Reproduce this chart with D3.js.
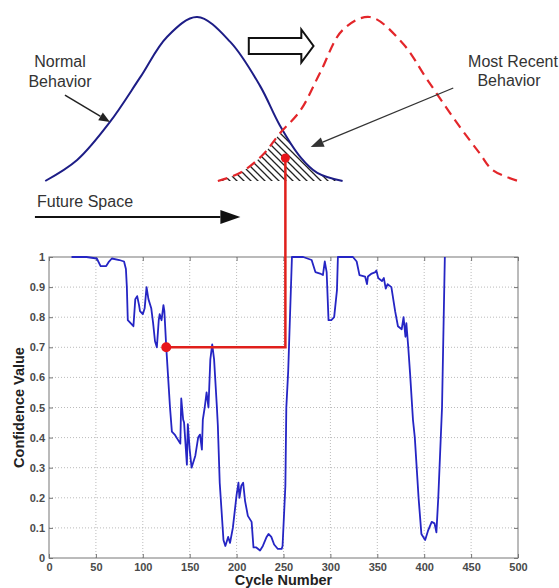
<!DOCTYPE html>
<html lang="en">
<head>
<meta charset="UTF-8">
<title>Confidence value vs cycle number</title>
<script src="https://cdn.jsdelivr.net/npm/d3@7"></script>
<style>
  body { margin: 0; background: #fff; }
  .tick text { font-family: "Liberation Sans", Arial, sans-serif; font-weight: bold; font-size: 11px; fill: #4a4a4a; }
  .label { font-family: "Liberation Sans", Arial, sans-serif; font-weight: bold; font-size: 14.5px; fill: #222; }
  .note { font-family: "Liberation Sans", Arial, sans-serif; font-size: 16px; fill: #333; }
</style>
</head>
<body>
<script>
// confidence value per cycle
var cycles = [24, 40, 51, 55, 61, 64, 67, 75, 80, 82, 83, 84, 87, 90, 92, 94, 96, 97, 100, 102,
  104, 106, 109, 111, 113, 115, 117, 118, 120, 122, 123, 125, 127, 129, 131, 134, 138, 140, 141, 143,
  144, 147, 148, 150, 152, 156, 159, 161, 163, 164, 166, 168, 170, 172, 174, 176, 179, 180, 182, 186,
  188, 190, 191, 193, 196, 200, 202, 203, 205, 207, 209, 212, 216, 218, 221, 225, 228, 232, 234, 237,
  240, 244, 248, 249, 252, 253, 255, 259, 271, 280, 284, 289, 292, 294, 296, 298, 301, 304, 307, 308,
  324, 328, 331, 337, 339, 340, 344, 348, 349, 351, 355, 357, 359, 361, 365, 367, 369, 372, 376, 378,
  380, 381, 383, 385, 388, 390, 394, 397, 401, 404, 408, 411, 413, 415, 419, 422];
var confidence = [1.0, 1.0, 0.995, 0.97, 0.97, 0.985, 0.995, 0.99, 0.985, 0.96, 0.9, 0.79, 0.78, 0.77, 0.86, 0.87, 0.84, 0.82, 0.81, 0.83,
  0.9, 0.86, 0.83, 0.78, 0.72, 0.70, 0.79, 0.81, 0.79, 0.84, 0.82, 0.70, 0.6, 0.5, 0.42, 0.41, 0.39, 0.38, 0.53, 0.46,
  0.45, 0.31, 0.445, 0.36, 0.30, 0.34, 0.40, 0.41, 0.36, 0.46, 0.5, 0.55, 0.50, 0.66, 0.71, 0.66, 0.5, 0.44, 0.25, 0.06,
  0.04, 0.06, 0.07, 0.05, 0.1, 0.21, 0.25, 0.2, 0.24, 0.25, 0.19, 0.14, 0.12, 0.035, 0.035, 0.025, 0.04, 0.07, 0.08, 0.07,
  0.045, 0.03, 0.03, 0.04, 0.24, 0.5, 0.62, 1.0, 1.0, 0.99, 0.95, 0.945, 0.94, 0.985, 0.95, 0.79, 0.79, 0.8, 0.89, 1.0,
  1.0, 0.985, 0.94, 0.935, 0.91, 0.935, 0.945, 0.95, 0.955, 0.93, 0.92, 0.93, 0.895, 0.91, 0.9, 0.86, 0.82, 0.77, 0.76, 0.8,
  0.735, 0.78, 0.7, 0.61, 0.46, 0.4, 0.2, 0.08, 0.06, 0.09, 0.12, 0.115, 0.085, 0.2, 0.5, 1.0];

var xTicks = [0, 50, 100, 150, 200, 250, 300, 350, 400, 450, 500];
var yTicks = [0, 0.1, 0.2, 0.3, 0.4, 0.5, 0.6, 0.7, 0.8, 0.9, 1];

// bell curves of the sketch above, in cycle units / relative height
var normalX = [-4, 30, 65, 97, 126, 158, 193, 225, 246, 268, 286, 313];
var normalH = [0, 0.128, 0.36, 0.63, 0.88, 1, 0.85, 0.58, 0.34, 0.146, 0.05, 0];
var recentX = [180, 204, 228, 246, 268, 289, 313, 342, 377, 403, 438, 459, 473, 500];
var recentH = [0, 0.05, 0.16, 0.29, 0.43, 0.66, 0.92, 1, 0.84, 0.62, 0.33, 0.17, 0.067, 0];

// selected point and its place in the sketch
var pickCycle = 125, pickValue = 0.7;
var nowCycle = 252, nowH = 0.14;

const w = 559, h = 588;
const svg = d3.select("body").append("svg").attr("width", w).attr("height", h);

var x = d3.scaleLinear().domain([0, 500]).range([49, 518]);
var y = d3.scaleLinear().domain([0, 1]).range([558, 257]);
var ty = d3.scaleLinear().domain([0, 1]).range([181, 17]);   // sketch height

// ---- lower plot ----
var plot = svg.append("g");

// dotted grid
plot.append("g").selectAll("line").data(xTicks.slice(1, -1)).enter().append("line")
  .attr("x1", d => x(d)).attr("x2", d => x(d)).attr("y1", y(0)).attr("y2", y(1))
  .attr("stroke", "#bbb").attr("stroke-dasharray", "1,2");
plot.append("g").selectAll("line").data(yTicks.slice(1, -1)).enter().append("line")
  .attr("y1", d => y(d)).attr("y2", d => y(d)).attr("x1", x(0)).attr("x2", x(500))
  .attr("stroke", "#bbb").attr("stroke-dasharray", "1,2");

function styleAxis(g) {
  g.select(".domain").remove();
  g.selectAll(".tick line").attr("stroke", "#777");
}
plot.append("g").attr("transform", "translate(0," + y(0) + ")")
  .call(d3.axisBottom(x).tickValues(xTicks).tickSizeInner(-4).tickSizeOuter(0).tickPadding(5).tickFormat(d3.format("d")))
  .call(styleAxis);
plot.append("g").attr("transform", "translate(" + x(0) + ",0)")
  .call(d3.axisLeft(y).tickValues(yTicks).tickSizeInner(-4).tickSizeOuter(0).tickPadding(4).tickFormat(d => d === 0 || d === 1 ? d : d3.format(".1f")(d)))
  .call(styleAxis);
plot.append("g").attr("transform", "translate(" + x(500) + ",0)")
  .call(d3.axisRight(y).tickValues(yTicks).tickSizeInner(-4).tickSizeOuter(0).tickFormat(""))
  .call(styleAxis);
plot.append("g").attr("transform", "translate(0," + y(1) + ")")
  .call(d3.axisTop(x).tickValues(xTicks).tickSizeInner(-4).tickSizeOuter(0).tickFormat(""))
  .call(styleAxis);

plot.append("rect").attr("x", x(0)).attr("y", y(1)).attr("width", x(500) - x(0)).attr("height", y(0) - y(1))
  .attr("fill", "none").attr("stroke", "#777");

var series = cycles.map((c, i) => [c, confidence[i]]);
plot.append("path").datum(series)
  .attr("fill", "none").attr("stroke", "#2525c4").attr("stroke-width", 1.8).attr("stroke-linejoin", "round")
  .attr("d", d3.line().x(d => x(d[0])).y(d => y(d[1])));

plot.append("text").attr("class", "label").attr("text-anchor", "middle")
  .attr("x", (x(0) + x(500)) / 2).attr("y", 585).text("Cycle Number");
plot.append("text").attr("class", "label").attr("text-anchor", "middle")
  .attr("transform", "translate(24," + (y(0) + y(1)) / 2 + ") rotate(-90)").text("Confidence Value");

// ---- sketch above ----
var defs = svg.append("defs");
var hatch = defs.append("pattern").attr("id", "hatch").attr("patternUnits", "userSpaceOnUse")
  .attr("width", 7).attr("height", 7);
hatch.append("path").attr("d", "M-1,-1 L8,8 M-1,6 L1,8 M6,-1 L8,1")
  .attr("stroke", "#222").attr("stroke-width", 1.3);

var normalPts = normalX.map((c, i) => [c, normalH[i]]);
var recentPts = recentX.map((c, i) => [c, recentH[i]]);
var bell = d3.line().x(d => x(d[0])).y(d => ty(d[1])).curve(d3.curveCatmullRom.alpha(0.5));
var under = d3.area().x(d => x(d[0])).y0(ty(0)).y1(d => ty(d[1])).curve(d3.curveCatmullRom.alpha(0.5));

defs.append("clipPath").attr("id", "clipNormal").append("path").attr("d", under(normalPts));
defs.append("clipPath").attr("id", "clipRecent").append("path").attr("d", under(recentPts));

svg.append("g").attr("clip-path", "url(#clipRecent)")
  .append("rect").attr("clip-path", "url(#clipNormal)")
  .attr("x", x(150)).attr("y", ty(1)).attr("width", x(350) - x(150)).attr("height", ty(0) - ty(1))
  .attr("fill", "url(#hatch)");

svg.append("path").attr("d", bell(normalPts))
  .attr("fill", "none").attr("stroke", "#1d1d86").attr("stroke-width", 2);
svg.append("path").attr("d", bell(recentPts))
  .attr("fill", "none").attr("stroke", "#e3262a").attr("stroke-width", 2.2).attr("stroke-dasharray", "10,6");

// arrows
function arrow(x1, y1, x2, y2, len, half, sw, col) {
  var a = Math.atan2(y2 - y1, x2 - x1);
  var bx = x2 - len * Math.cos(a), by = y2 - len * Math.sin(a);
  svg.append("line").attr("x1", x1).attr("y1", y1).attr("x2", bx).attr("y2", by)
    .attr("stroke", col).attr("stroke-width", sw);
  svg.append("path")
    .attr("d", "M" + x2 + "," + y2 + "L" + (bx + half * Math.sin(a)) + "," + (by - half * Math.cos(a)) +
      "L" + (bx - half * Math.sin(a)) + "," + (by + half * Math.cos(a)) + "Z")
    .attr("fill", col);
}
arrow(x(17), ty(0.524), x(65), ty(0.36), 11, 4.5, 1.5, "#222");
arrow(x(431), ty(0.567), x(279), ty(0.207), 13, 5, 1.3, "#333");
arrow(x(-15), ty(-0.22), x(204), ty(-0.22), 20, 7, 2, "#111");

// hollow arrow between the curves
var hx0 = x(213), hx1 = x(269), hx2 = x(282), hc = ty(0.823);
svg.append("path")
  .attr("d", "M" + hx0 + "," + (hc - 8) + "H" + hx1 + "V" + (hc - 16.5) + "L" + hx2 + "," + hc +
    "L" + hx1 + "," + (hc + 16.5) + "V" + (hc + 8) + "H" + hx0 + "Z")
  .attr("fill", "#fff").attr("stroke", "#111").attr("stroke-width", 2).attr("stroke-linejoin", "miter");

svg.append("text").attr("class", "note").attr("text-anchor", "middle").attr("x", 60).attr("y", 67).text("Normal");
svg.append("text").attr("class", "note").attr("text-anchor", "middle").attr("x", 60).attr("y", 87).text("Behavior");
svg.append("text").attr("class", "note").attr("text-anchor", "middle").attr("x", 513).attr("y", 67).text("Most Recent");
svg.append("text").attr("class", "note").attr("text-anchor", "middle").attr("x", 509).attr("y", 86).text("Behavior");
svg.append("text").attr("class", "note").attr("x", 37).attr("y", 207).text("Future Space");

// red link from the picked point to the sketch
svg.append("path")
  .attr("d", "M" + x(pickCycle) + "," + y(pickValue) + "H" + x(nowCycle) + "V" + ty(nowH))
  .attr("fill", "none").attr("stroke", "#e0201c").attr("stroke-width", 2.5);
svg.append("circle").attr("cx", x(pickCycle)).attr("cy", y(pickValue)).attr("r", 5).attr("fill", "#e8141c");
svg.append("circle").attr("cx", x(nowCycle)).attr("cy", ty(nowH)).attr("r", 4.5).attr("fill", "#e8141c");
</script>
</body>
</html>
